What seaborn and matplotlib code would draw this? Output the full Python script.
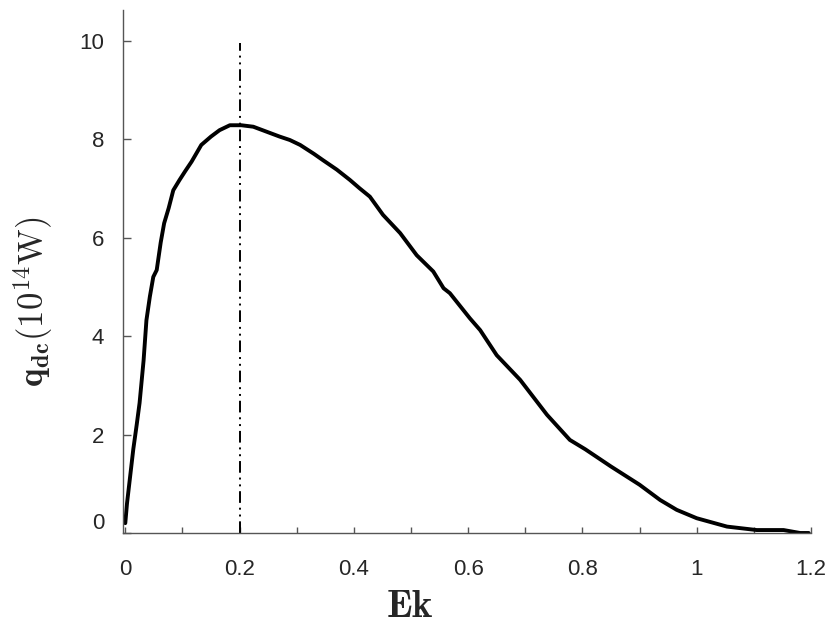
import numpy as np
import pandas as pd
import matplotlib
matplotlib.use("Agg")
import matplotlib.pyplot as plt
import matplotlib.transforms as mtransforms
import seaborn as sns

# values
ek = [0, 0.003, 0.008, 0.014, 0.02, 0.025, 0.032, 0.037, 0.043, 0.049, 0.055,
      0.062, 0.068, 0.076, 0.084, 0.095, 0.105, 0.116, 0.133, 0.15, 0.165,
      0.183, 0.203, 0.224, 0.247, 0.27, 0.288, 0.306, 0.33, 0.346, 0.37,
      0.393, 0.41, 0.428, 0.451, 0.481, 0.51, 0.539, 0.557, 0.568, 0.603,
      0.621, 0.65, 0.691, 0.738, 0.778, 0.805, 0.85, 0.9, 0.936, 0.965, 1.0,
      1.053, 1.105, 1.152, 1.181, 1.196]
q_dc = [0.2, 0.6, 1.1, 1.7, 2.2, 2.64, 3.5, 4.32, 4.8, 5.2, 5.34,
        5.9, 6.29, 6.6, 6.96, 7.17, 7.35, 7.54, 7.88, 8.05, 8.18,
        8.28, 8.28, 8.25, 8.15, 8.05, 7.98, 7.88, 7.7, 7.57, 7.38,
        7.17, 7.0, 6.83, 6.46, 6.09, 5.64, 5.31, 4.97, 4.87, 4.36,
        4.12, 3.61, 3.11, 2.40, 1.89, 1.70, 1.35, 0.98, 0.67, 0.47, 0.30,
        0.13, 0.06, 0.06, 0.0, 0.0]
peak_ek = 0.2
peak_line_top = 9.95
x_ticks = [0, 0.2, 0.4, 0.6, 0.8, 1.0, 1.2]
x_tick_labels = ["0", "0.2", "0.4", "0.6", "0.8", "1", "1.2"]
y_ticks = [0, 2, 4, 6, 8, 10]

sns.set_theme(style="white")
plt.rcParams['font.family'] = ['Liberation Sans', 'DejaVu Sans']
plt.rcParams['mathtext.fontset'] = 'cm'

df = pd.DataFrame({'Ek': ek, 'q': q_dc})

fig = plt.figure(figsize=(8.38, 6.31), dpi=100)
ax = fig.add_axes([123/838, 1 - 533/631, 688/838, 523/631])

sns.lineplot(data=df, x='Ek', y='q', ax=ax, color='black', lw=2.8,
             sort=False, estimator=None)
ax.plot([peak_ek, peak_ek], [0, peak_line_top], color='black', lw=1.4,
        dashes=(6, 2.5, 1, 2.5, 1, 2.5))

ax.set_xlim(-0.004, 1.2)
ax.set_ylim(0, 10.62)

ax.set_xticks(x_ticks)
ax.set_xticklabels(x_tick_labels)
ax.set_xticks(np.arange(0.1, 1.2, 0.2), minor=True)
ax.set_yticks(y_ticks)
ax.set_yticklabels([str(v) for v in y_ticks])

ax.tick_params(axis='x', which='both', direction='in', length=4, width=1,
               color='#555555', labelsize=16, pad=19, bottom=True)
ax.tick_params(axis='y', which='major', direction='in', length=5.5, width=1,
               color='#555555', labelsize=16, pad=13.5, left=True)

# the "0" label sits a bit above its tick in the reference
lbl0 = ax.get_yticklabels()[0]
lbl0.set_transform(lbl0.get_transform() +
                   mtransforms.ScaledTranslation(0, 12/100, fig.dpi_scale_trans))

for s in ['top', 'right']:
    ax.spines[s].set_visible(False)
for s in ['left', 'bottom']:
    ax.spines[s].set_color('#555555')
    ax.spines[s].set_linewidth(1)

ax.set_xlabel(r'$\mathbf{Ek}$', fontsize=28)
ax.xaxis.set_label_coords(0.417, -0.108)
ax.set_ylabel(r'$\mathbf{q_{dc}}(10^{14}\mathrm{W})$', fontsize=25)
ax.yaxis.set_label_coords(-0.099, 0.442)

fig.savefig('out.png', dpi=100, facecolor='white')
